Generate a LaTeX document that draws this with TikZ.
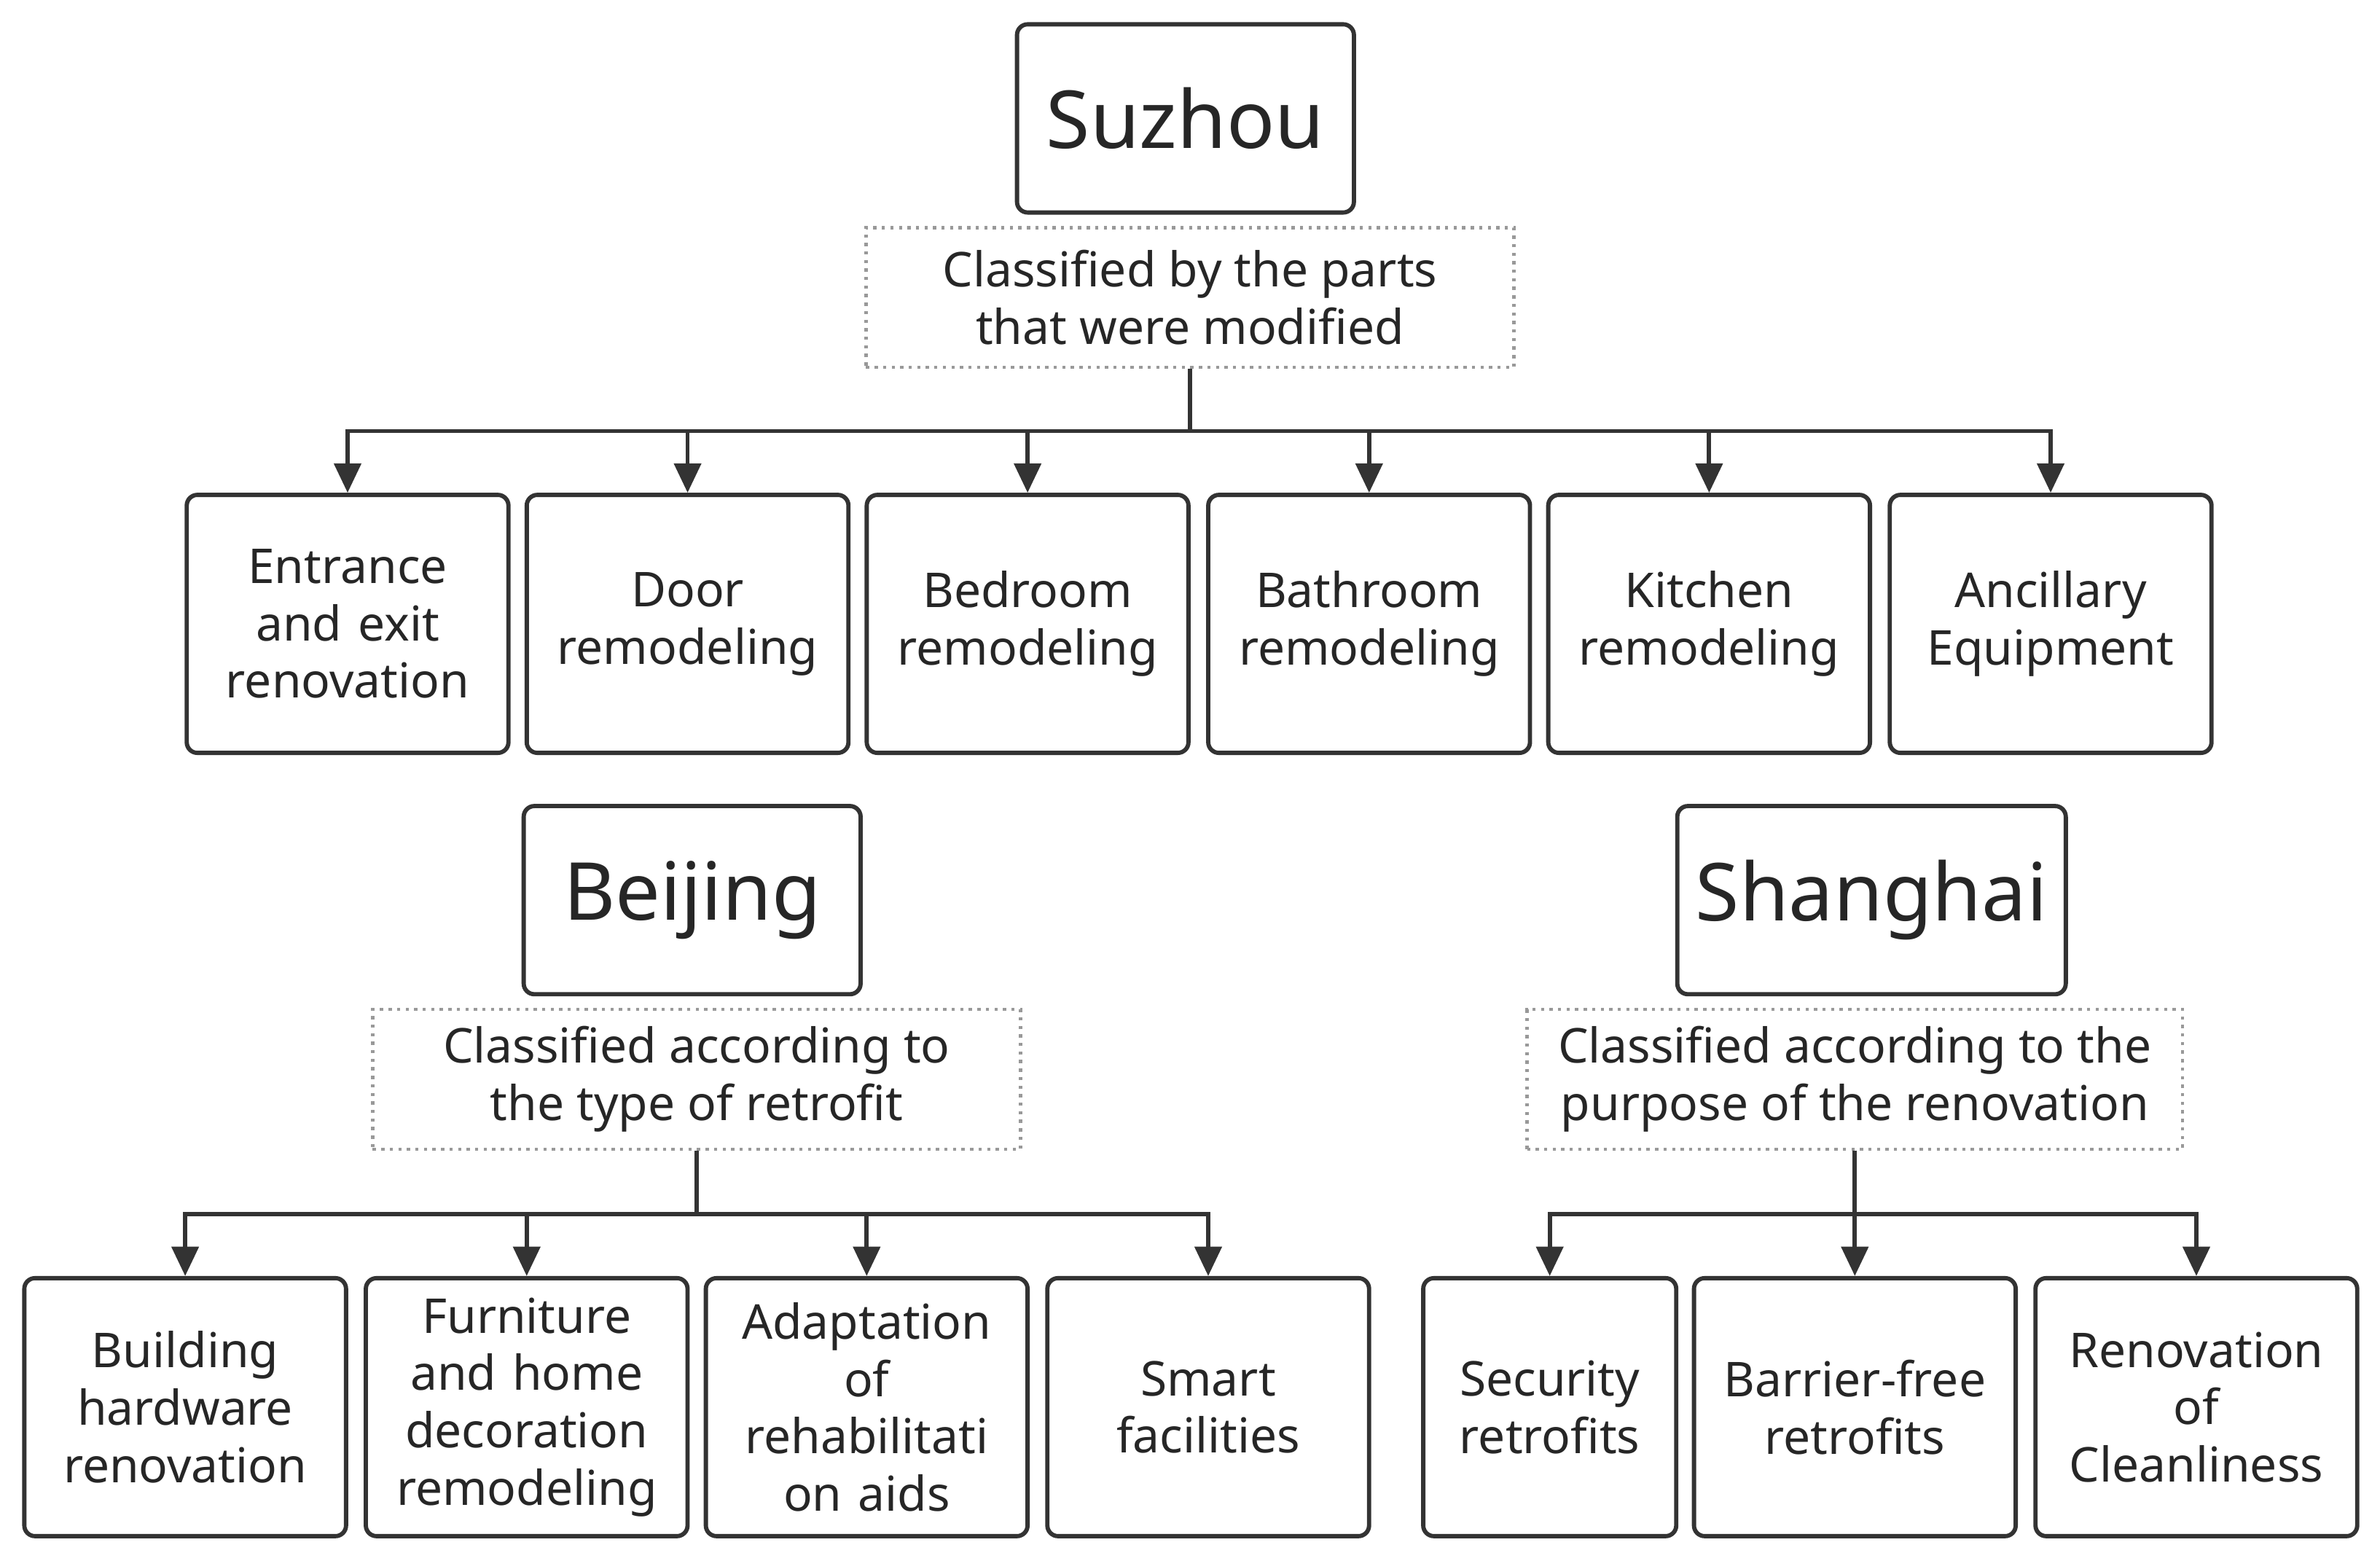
\documentclass[tikz,border=0pt]{standalone}
\usepackage{fontspec}
\setmainfont{Noto Sans}
\usetikzlibrary{arrows.meta}
\begin{document}
\begin{tikzpicture}[x=0.02cm,y=-0.02cm,
  city/.style={draw=black!80, line width=1.6pt, rounded corners=4pt, minimum height=2.48cm,
    font=\fontsize{30}{36}\selectfont, text=black!85},
  cls/.style={draw=black!40, dotted, line width=1.2pt, minimum height=1.84cm,
    font=\fontsize{18}{21.5}\selectfont, align=center, text=black!85},
  leaf/.style={draw=black!80, line width=1.6pt, rounded corners=4pt, minimum height=3.4cm,
    minimum width=4.24cm, text width=4cm, align=center,
    font=\fontsize{18}{21.5}\selectfont, text=black!85},
  link/.style={draw=black!80, line width=1.6pt},
  arr/.style={link, -{Triangle[length=11pt,width=10pt]}}]
\useasboundingbox (0,0) rectangle (1568,1028);

% Suzhou
\node[city, minimum width=4.44cm] (sz) at (781,78) {Suzhou};
\node[cls, minimum width=8.54cm] (szc) at (784,196) {Classified by the parts\\that were modified};
\coordinate (szj) at (784,284);
\foreach \i/\x/\t in {1/229/Entrance\\and exit\\renovation, 2/453/Door\\remodeling,
  3/677/Bedroom\\remodeling, 4/902/Bathroom\\remodeling, 5/1126/Kitchen\\remodeling,
  6/1351/Ancillary\\Equipment}
  \node[leaf] (s\i) at (\x,411) {\t};
\draw[link] (szc) -- (szj);
\foreach \i in {1,...,6}
  \draw[arr] (szj) -| (s\i.north);

% Beijing
\node[city, minimum width=4.44cm] (bj) at (456,593) {Beijing};
\node[cls, minimum width=8.54cm] (bjc) at (459,711) {Classified according to\\the type of retrofit};
\coordinate (bjj) at (459,800);
\foreach \i/\x/\t in {1/122/Building\\hardware\\renovation, 2/347/Furniture\\and home\\decoration\\remodeling,
  3/571/Adaptation\\of\\rehabilitati\\on aids, 4/796/Smart\\facilities}
  \node[leaf] (b\i) at (\x,927) {\t};
\draw[link] (bjc) -- (bjj);
\foreach \i in {1,...,4}
  \draw[arr] (bjj) -| (b\i.north);

% Shanghai
\node[city, minimum width=5.12cm] (sh) at (1233,593) {Shanghai};
\node[cls, minimum width=8.64cm] (shc) at (1222,711) {Classified according to the\\purpose of the renovation};
\coordinate (shj) at (1222,800);
\node[leaf, minimum width=3.32cm, text width=3.1cm] (h1) at (1021,927) {Security\\retrofits};
\node[leaf] (h2) at (1222,927) {Barrier-free\\retrofits};
\node[leaf] (h3) at (1447,927) {Renovation\\of\\Cleanliness};
\draw[link] (shc) -- (shj);
\foreach \i in {1,2,3}
  \draw[arr] (shj) -| (h\i.north);
\end{tikzpicture}
\end{document}
